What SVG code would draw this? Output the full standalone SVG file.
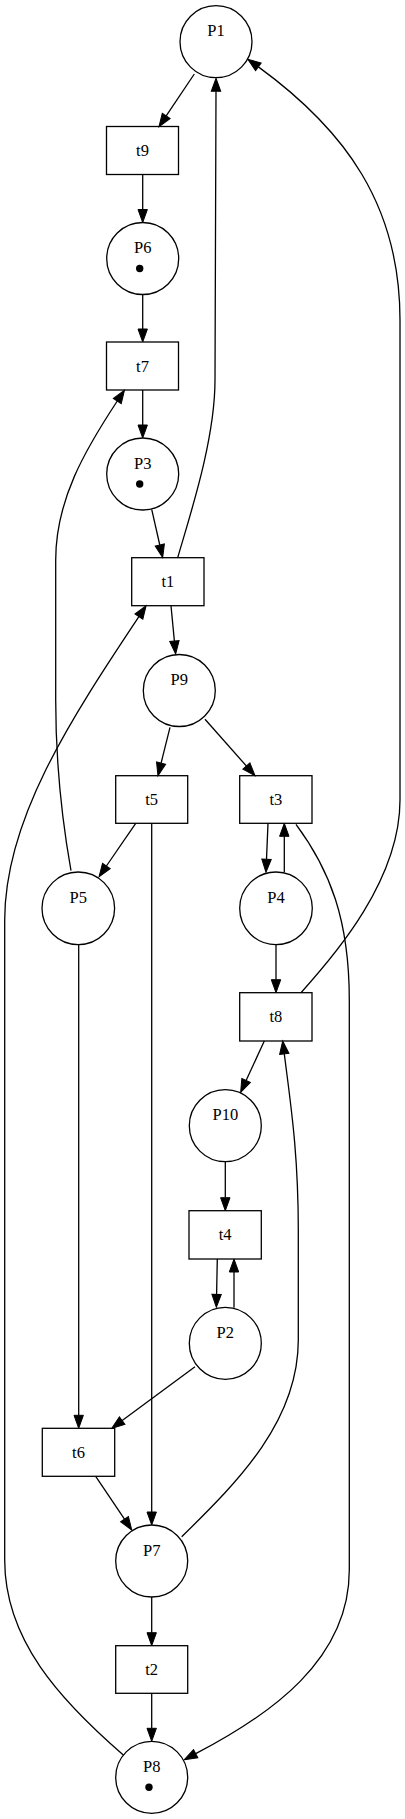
<svg xmlns="http://www.w3.org/2000/svg" width="405" height="1819" viewBox="0 0 405 1819">
<style>
.n{fill:none;stroke:#000;stroke-width:1.3}
.e{fill:none;stroke:#000;stroke-width:1.3;marker-end:url(#a)}
.l{font-family:"Liberation Serif","Times New Roman",serif;font-size:16.5px;fill:#000;text-anchor:middle}
.tok{fill:#000}
</style>
<defs>
<marker id="a" markerUnits="userSpaceOnUse" markerWidth="14" markerHeight="10" refX="0" refY="4.7" orient="auto" overflow="visible">
<path d="M0,0 L13,4.7 L0,9.4 z" fill="#000" stroke="#000" stroke-width="1"/>
</marker>
</defs>
<rect width="405" height="1819" fill="#fff"/>
<g id="edges">
<path class="e" d="M194.3,74 L166.2,115.9"/>
<path class="e" d="M142.7,174.5 L142.7,209.5"/>
<path class="e" d="M142.7,294.5 L142.7,329"/>
<path class="e" d="M142.7,390 L142.7,425"/>
<path class="e" d="M151.7,509.3 L159.8,545"/>
<path class="e" d="M177.7,557.7 C190,515 215,440 215,380 L216,91.3"/>
<path class="e" d="M301,992.7 C335,955 400,880 400,800 L400,320 C400,205 345,130 258.4,66.9"/>
<path class="e" d="M171,605.7 L174.4,641.1"/>
<path class="e" d="M170,727.3 L161.1,763.1"/>
<path class="e" d="M205,719.3 L246.4,766"/>
<path class="e" d="M135.7,823.3 L106.4,866"/>
<path class="e" d="M151.7,823.3 L151.7,1512"/>
<path class="e" d="M268,823.3 L266.5,859.3"/>
<path class="e" d="M284.3,872.3 L284.3,836.3"/>
<path class="e" d="M296,824.3 C330,870 349.3,920 349.3,1000 L349.3,1570 C349.3,1660 270,1715 195.7,1753.7"/>
<path class="e" d="M276,945 L276,979.7"/>
<path class="e" d="M264.3,1041 L246.1,1080.5"/>
<path class="e" d="M225.3,1161.7 L225.3,1197.7"/>
<path class="e" d="M217.3,1259 L216.6,1294.3"/>
<path class="e" d="M234,1307.7 L234,1272"/>
<path class="e" d="M195,1366.7 L122.2,1420.6"/>
<path class="e" d="M78.7,944.5 L78.7,1415.3"/>
<path class="e" d="M95.7,1476.3 L124.5,1519.2"/>
<path class="e" d="M181.7,1536.7 C240,1480 298.3,1420 298.3,1340 L298.3,1230 C298.3,1150 290,1100 284.3,1053.9"/>
<path class="e" d="M151.7,1597 L151.7,1632.7"/>
<path class="e" d="M151.7,1693.3 L151.7,1728.3"/>
<path class="e" d="M123.3,1755 C60,1700 4.7,1640 4.7,1560 L4.7,920 C4.7,820 70,720 138.9,616.6"/>
<path class="e" d="M71,870.7 C62,820 55.7,760 55.7,700 L55.7,560 C55.7,500 85,450 117.3,401"/>
</g>
<g id="P1"><circle class="n" cx="216" cy="41.7" r="36"/><text class="l" x="216" y="36.2">P1</text></g>
<g id="t9"><rect class="n" x="106.5" y="126.5" width="72" height="48"/><text class="l" x="142.5" y="156">t9</text></g>
<g id="P6"><circle class="n" cx="142.7" cy="258.5" r="36"/><text class="l" x="142.7" y="253">P6</text><circle class="tok" cx="139.7" cy="268.5" r="3.7"/></g>
<g id="t7"><rect class="n" x="106.5" y="342" width="72" height="48"/><text class="l" x="142.5" y="371.5">t7</text></g>
<g id="P3"><circle class="n" cx="142.7" cy="474" r="36"/><text class="l" x="142.7" y="468.5">P3</text><circle class="tok" cx="139.7" cy="484" r="3.7"/></g>
<g id="t1"><rect class="n" x="131.7" y="557.7" width="72.3" height="48"/><text class="l" x="167.8" y="587.2">t1</text></g>
<g id="P9"><circle class="n" cx="179.3" cy="690.5" r="36"/><text class="l" x="179.3" y="685">P9</text></g>
<g id="t5"><rect class="n" x="115.7" y="775.7" width="72" height="47.6"/><text class="l" x="151.7" y="805">t5</text></g>
<g id="t3"><rect class="n" x="239.7" y="775.7" width="72.3" height="47.6"/><text class="l" x="275.8" y="805">t3</text></g>
<g id="P5"><circle class="n" cx="78.3" cy="908.3" r="36.3"/><text class="l" x="78.3" y="902.8">P5</text></g>
<g id="P4"><circle class="n" cx="276" cy="908.3" r="36.3"/><text class="l" x="276" y="902.8">P4</text></g>
<g id="t8"><rect class="n" x="239.7" y="992.7" width="72.3" height="48.3"/><text class="l" x="275.8" y="1022.3">t8</text></g>
<g id="P10"><circle class="n" cx="225.3" cy="1125.7" r="36"/><text class="l" x="225.3" y="1120.2">P10</text></g>
<g id="t4"><rect class="n" x="189" y="1210.7" width="72.3" height="48.3"/><text class="l" x="225.2" y="1240.3">t4</text></g>
<g id="P2"><circle class="n" cx="225.3" cy="1343.3" r="36"/><text class="l" x="225.3" y="1337.8">P2</text></g>
<g id="t6"><rect class="n" x="42.3" y="1428.3" width="72.4" height="48"/><text class="l" x="78.5" y="1457.8">t6</text></g>
<g id="P7"><circle class="n" cx="151.7" cy="1561" r="36"/><text class="l" x="151.7" y="1555.5">P7</text></g>
<g id="t2"><rect class="n" x="115.7" y="1645.7" width="72" height="47.6"/><text class="l" x="151.7" y="1675">t2</text></g>
<g id="P8"><circle class="n" cx="151.7" cy="1777.3" r="36"/><text class="l" x="151.7" y="1771.8">P8</text><circle class="tok" cx="149" cy="1787.3" r="3.7"/></g>
</svg>
